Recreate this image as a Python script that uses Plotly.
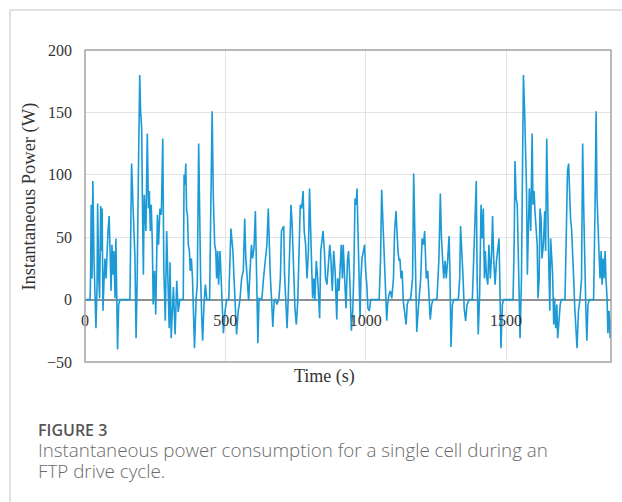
import plotly.graph_objects as go

# FTP-75 drive cycle: instantaneous power drawn from a single cell (W) vs time (s)
# Phase 1: cold-start transient (0-505 s)
phase1_t = [0, 18, 20, 22, 25, 28, 32, 36, 39, 43, 45, 49, 52, 56, 58, 61, 64, 68, 71, 75,
            78, 82, 86, 89, 93, 96, 100, 103, 107, 110, 114, 116, 120, 125, 160, 163, 166, 171,
            175, 178, 182, 186, 190, 195, 198, 202, 204, 208, 211, 217, 222, 226, 229, 233, 236,
            240, 243, 248, 252, 258, 262, 267, 272, 277, 281, 286, 291, 296, 300, 303, 307, 312,
            315, 321, 327, 332, 338, 350, 353, 356, 359, 362, 365, 368, 372, 375, 379, 383, 386,
            390, 396, 400, 405, 409, 412, 416, 419, 424, 429, 434, 444, 448, 453, 457, 462, 466,
            469, 473, 476, 481, 485, 488, 493, 499]
phase1_p = [0, 0, 20, 76, 17, 95, 33, 1, -23, 12, 77, 17, 1, 75, 39, 73, -9, 17, 33, 17,
            39, 55, 67, 33, 7, 44, 20, 39, 1, 49, -9, -40, -4, 0, 0, 44, 109, 76,
            55, 33, -31, 17, 97, 180, 151, 137, 89, 20, 84, 55, 133, 73, 87, 55, 76,
            44, -4, 23, -12, 68, 44, 73, 68, 129, 23, -17, 55, 17, -23, 30, -31, -5,
            10, -28, 15, -10, 0, 0, 100, 92, 109, 71, 68, 44, 39, 23, 33, 17, -7,
            -39, 1, 12, 125, 44, 17, -15, -33, -4, 12, 0, 0, 71, 151, 84, 44, 39,
            17, 39, 12, 39, 17, 1, -27, -9]

# Phase 2: stabilised phase (505-1369 s)
phase2_t = [505, 512, 517, 520, 523, 527, 531, 534, 540, 546, 552, 558, 564, 569, 573, 578,
            583, 588, 593, 597, 602, 607, 610, 613, 616, 620, 630, 636, 641, 648, 653, 657,
            660, 665, 669, 674, 678, 684, 691, 696, 700, 704, 708, 711, 716, 720, 724, 729,
            734, 738, 741, 745, 748, 753, 758, 762, 767, 772, 777, 781, 786, 791, 796, 800,
            804, 808, 811, 815, 819, 824, 829, 836, 840, 843, 848, 853, 857, 862, 867, 872,
            876, 881, 886, 891, 897, 900, 905, 909, 913, 917, 920, 925, 930, 935, 939, 944,
            949, 954, 958, 962, 966, 969, 973, 976, 980, 983, 987, 992, 996, 1000, 1004, 1008,
            1013, 1018, 1048, 1053, 1057, 1061, 1064, 1068, 1071, 1075, 1078, 1083, 1088, 1093,
            1099, 1103, 1108, 1112, 1115, 1119, 1122, 1126, 1130, 1134, 1139, 1144, 1148, 1153,
            1160, 1167, 1171, 1175, 1178, 1182, 1187, 1191, 1196, 1201, 1206, 1210, 1216, 1221,
            1226, 1230, 1235, 1240, 1247, 1254, 1261, 1266, 1270, 1273, 1278, 1283, 1287, 1292,
            1297, 1300, 1304, 1309, 1314, 1330, 1335, 1338, 1342, 1347, 1351, 1356, 1361]
phase2_p = [0, 0, 44, 57, 49, 39, 17, -4, -28, -9, 0, 17, 23, 65, 33, 17,
            -1, 23, 44, 33, 41, 71, 31, -28, -35, 1, 0, 17, 31, 44, 73, 39,
            20, -1, -22, -1, 0, -4, 1, 17, 55, 57, 59, 20, -9, -23, 1, 31,
            76, 60, 39, 17, -7, -20, -1, 33, 76, 73, 87, 55, 44, 17, 39, 89,
            44, 23, 1, 17, -1, 31, 17, -15, 39, 44, 55, 39, 17, 12, 31, 44,
            33, 7, 39, 23, -16, 17, 7, 25, 44, 17, 44, 17, -7, 31, 39, 12,
            -25, -9, 23, 81, 76, 89, 44, 12, -15, 17, 33, 39, 44, 23, 12, -7,
            -9, 0, 0, 33, 88, 65, 44, 23, 7, -17, -4, 4, 7, 1,
            17, 55, 71, 44, 39, 31, 33, 17, 23, -1, -9, -20, -4, 0,
            0, 17, 101, 44, 1, -26, -9, 1, 17, 49, 44, 55, 17, 23,
            -4, -16, -4, 0, 0, 1, 33, 85, 49, 33, 17, 31, 17, 31,
            51, 23, -38, -4, 0, 0, 17, 59, 44, 17, -7, -17, -4]

# Phase 3: hot-start transient (1369-1874 s)
phase3_t = [1369, 1380, 1386, 1390, 1394, 1397, 1401, 1406, 1411, 1415, 1419, 1423, 1426,
            1430, 1435, 1439, 1444, 1449, 1452, 1456, 1461, 1466, 1470, 1475, 1479, 1482,
            1487, 1492, 1525, 1529, 1532, 1536, 1540, 1543, 1546, 1550, 1555, 1558, 1562,
            1566, 1569, 1573, 1576, 1580, 1583, 1588, 1593, 1596, 1600, 1603, 1607, 1611,
            1614, 1618, 1621, 1625, 1628, 1633, 1638, 1641, 1645, 1649, 1652, 1656, 1659,
            1663, 1666, 1670, 1673, 1677, 1681, 1684, 1688, 1693, 1697, 1710, 1714, 1719,
            1723, 1727, 1730, 1734, 1738, 1741, 1745, 1748, 1753, 1758, 1764, 1769, 1773,
            1777, 1780, 1784, 1788, 1792, 1797, 1812, 1817, 1821, 1824, 1828, 1831, 1835,
            1839, 1842, 1846, 1849, 1853, 1856, 1860, 1863, 1867, 1871, 1874]
phase3_p = [0, 0, 44, 76, 95, 20, -28, 4, 76, 49, 73, 17, 39,
            20, 12, 44, 17, 39, 67, 33, 12, 31, 39, 49, 1, -39,
            -4, 0, 0, 44, 111, 81, 76, 39, 1, -31, 17, 92, 180,
            153, 124, 89, 20, 71, 89, 55, 133, 76, 87, 71, 55, 44,
            1, 17, 73, 65, 33, 44, 71, 39, 129, 55, 33, -9, 49,
            33, 20, -20, 1, -23, -4, -31, -15, -4, 0, 0, 44, 103,
            109, 71, 65, 55, 39, 17, -7, -23, -39, -9, 1, 17, 125,
            71, 33, -4, -33, -4, 0, 0, 71, 151, 84, 44, 39, 17,
            39, 12, 33, 17, 39, 17, 1, -27, -9, -31, -15]

x_ticks = [0, 500, 1000, 1500]
y_ticks = [-50, 0, 50, 100, 150, 200]
x_range = [0, 1874]
y_range = [-50, 200]

time_s = phase1_t + phase2_t + phase3_t
power_w = phase1_p + phase2_p + phase3_p

SERIF = "Liberation Serif, Times New Roman, serif"
SANS = "Open Sans, Noto Sans, sans-serif"
LINE_BLUE = "#1b9ad6"
GRID = "#e4e4e4"

fig = go.Figure(
    go.Scatter(x=time_s, y=power_w, mode="lines",
               line=dict(color=LINE_BLUE, width=1.6), hoverinfo="x+y")
)

# the time axis crosses at P = 0, so its labels sit just below the zero line
zero_frac = (0 - y_range[0]) / (y_range[1] - y_range[0])

fig.update_layout(
    width=622, height=502,
    margin=dict(l=85, r=11, t=50, b=140),
    paper_bgcolor="white", plot_bgcolor="white",
    showlegend=False,
    xaxis=dict(range=x_range, tickvals=x_ticks, ticktext=[str(v) for v in x_ticks],
               anchor="free", position=zero_frac, showline=False, ticks="",
               ticklabelstandoff=9,
               showgrid=True, gridcolor=GRID, gridwidth=1, zeroline=False,
               tickfont=dict(family=SERIF, size=16, color="#333333")),
    yaxis=dict(range=y_range, tickvals=y_ticks, ticks="", showline=False,
               showgrid=True, gridcolor=GRID, gridwidth=1,
               zeroline=True, zerolinecolor="#8f8f8f", zerolinewidth=1.5,
               ticklabelstandoff=12,
               tickfont=dict(family=SERIF, size=16, color="#333333")),
)

# plot frame
fig.add_shape(type="rect", xref="x domain", yref="y domain", x0=0, x1=1, y0=0, y1=1,
              line=dict(color="#a3a3a3", width=1.5), layer="above")

# figure panel border (top and left edges)
fig.add_shape(type="line", xref="paper", yref="paper", x0=-0.1426, x1=1.03, y0=1.1282, y1=1.1282,
              line=dict(color="#c4c4c4", width=1))
fig.add_shape(type="line", xref="paper", yref="paper", x0=-0.1426, x1=-0.1426, y0=1.1282, y1=-0.46,
              line=dict(color="#c4c4c4", width=1))

fig.add_annotation(text="Instantaneous Power (W)", xref="paper", yref="paper",
                   x=-0.1046, y=0.53, textangle=-90, showarrow=False,
                   xanchor="center", yanchor="middle",
                   font=dict(family=SERIF, size=18.5, color="#333333"))
fig.add_annotation(text="Time (s)", xref="paper", yref="paper",
                   x=0.456, y=-0.048, showarrow=False, xanchor="center", yanchor="middle",
                   font=dict(family=SERIF, size=18, color="#333333"))

# caption: heading plus two lines of description in one block
caption_head = "FIGURE 3"
caption_lines = ["Instantaneous power consumption for a single cell during an",
                 "FTP drive cycle."]
caption_html = (
    "<span style='font-weight:600;color:#555555'>" + caption_head + "</span>"
    + "".join("<br><span style='font-size:18.8px'>" + ln + "</span>" for ln in caption_lines)
)
fig.add_annotation(text=caption_html, xref="paper", yref="paper",
                   x=-0.0913, y=-0.288, showarrow=False, xanchor="left", yanchor="middle",
                   align="left", borderpad=0,
                   font=dict(family=SANS, size=16, color="#6a6a6a", weight=300))

fig.write_html("out.html")
